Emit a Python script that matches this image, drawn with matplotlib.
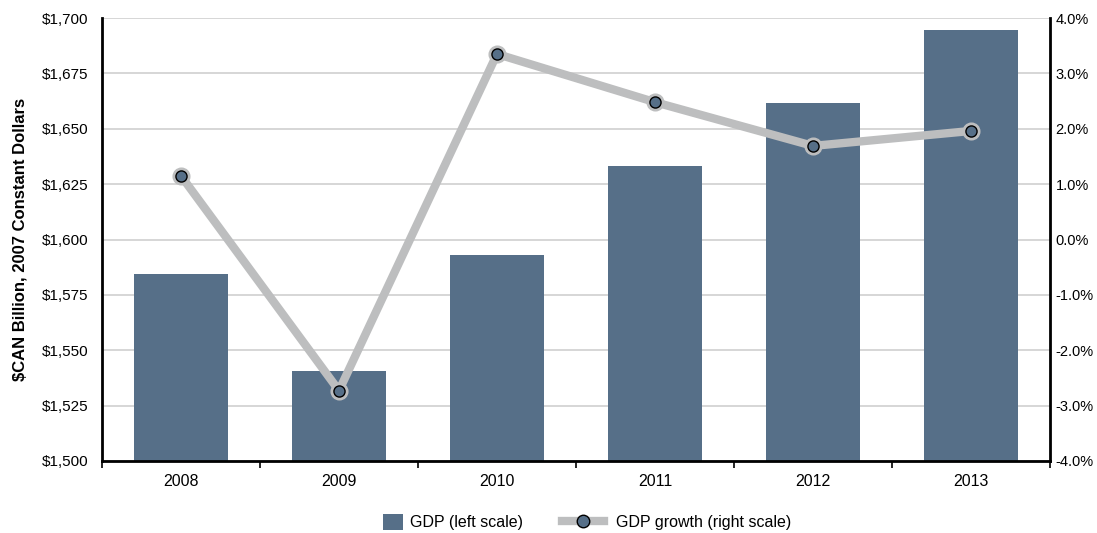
import matplotlib
matplotlib.use("Agg")
import matplotlib.pyplot as plt
from matplotlib.ticker import FuncFormatter, FixedLocator
from matplotlib.lines import Line2D
from matplotlib.patches import Patch

years = ["2008", "2009", "2010", "2011", "2012", "2013"]
gdp = [1584.4, 1540.6, 1593.0, 1633.2, 1661.6, 1694.6]
growth = [1.15, -2.73, 3.35, 2.48, 1.69, 1.96]

plt.rcParams['font.family'] = ['Liberation Sans', 'DejaVu Sans']

bar_color = "#566f88"
line_color = "#bdbebf"

fig = plt.figure(figsize=(10.97, 5.33), dpi=100)
ax = fig.add_axes([102/1097, 1-461/533, (1050-102)/1097, (461-18)/533])
x = list(range(len(years)))
ax.bar(x, gdp, width=0.6, color=bar_color, zorder=2)
ax.set_ylim(1500, 1700)
ax.set_xlim(-0.5, 5.5)
ax.set_yticks(range(1500, 1701, 25))
ax.yaxis.set_major_formatter(FuncFormatter(lambda v, p: "${:,.0f}".format(v)))
ax.grid(axis='y', color='#d0d0d0', linewidth=1.2, zorder=0)
ax.set_axisbelow(True)
ax.set_xticks(x)
ax.set_xticklabels(years)
ax.tick_params(axis='x', length=0, labelsize=11.5, pad=9)
ax.xaxis.set_minor_locator(FixedLocator([i + 0.5 for i in range(-1, 6)]))
ax.tick_params(axis='x', which='minor', length=5, width=1.2, color='black')
ax.tick_params(axis='y', length=0, labelsize=11, pad=10)
ax.spines['top'].set_visible(False)
ax.spines['left'].set_linewidth(2)
ax.spines['bottom'].set_linewidth(2)
ax.spines['right'].set_visible(False)
ax.set_ylabel("$CAN Billion, 2007 Constant Dollars", fontsize=12, fontweight='bold', labelpad=10)

ax2 = ax.twinx()
ax2.plot(x, growth, color=line_color, linewidth=6, solid_capstyle='round', zorder=3)
ax2.plot(x, growth, linestyle='none', marker='o', markersize=12, markerfacecolor=line_color,
         markeredgecolor=line_color, zorder=3.5)
ax2.plot(x, growth, linestyle='none', marker='o', markersize=8, markerfacecolor=bar_color,
         markeredgecolor='black', markeredgewidth=1, zorder=4)
ax2.set_ylim(-4, 4)
ax2.set_yticks(range(-4, 5))
ax2.yaxis.set_major_formatter(FuncFormatter(lambda v, p: "{:.1f}%".format(v)))
ax2.tick_params(axis='y', length=0, labelsize=10.5, pad=4)
ax2.spines['top'].set_visible(False)
ax2.spines['left'].set_visible(False)
ax2.spines['bottom'].set_visible(False)
ax2.spines['right'].set_linewidth(2)

fs = 11.5
leg1 = fig.legend([Patch(facecolor=bar_color, edgecolor='none')], ["GDP (left scale)"],
                  loc='center left', bbox_to_anchor=(383/1097, 1-522/533), frameon=False,
                  fontsize=fs, handlelength=1.25, handleheight=1.25, handletextpad=0.45,
                  borderpad=0, borderaxespad=0)
leg2 = fig.legend([Line2D([0], [0], color=line_color, linewidth=6, marker='o', markersize=9,
                          markerfacecolor=bar_color, markeredgecolor='black')],
                  ["GDP growth (right scale)"],
                  loc='center left', bbox_to_anchor=(562/1097, 1-522/533), frameon=False,
                  fontsize=fs, handlelength=2.6, handletextpad=0.75,
                  borderpad=0, borderaxespad=0)

fig.savefig("out.png", dpi=100)
